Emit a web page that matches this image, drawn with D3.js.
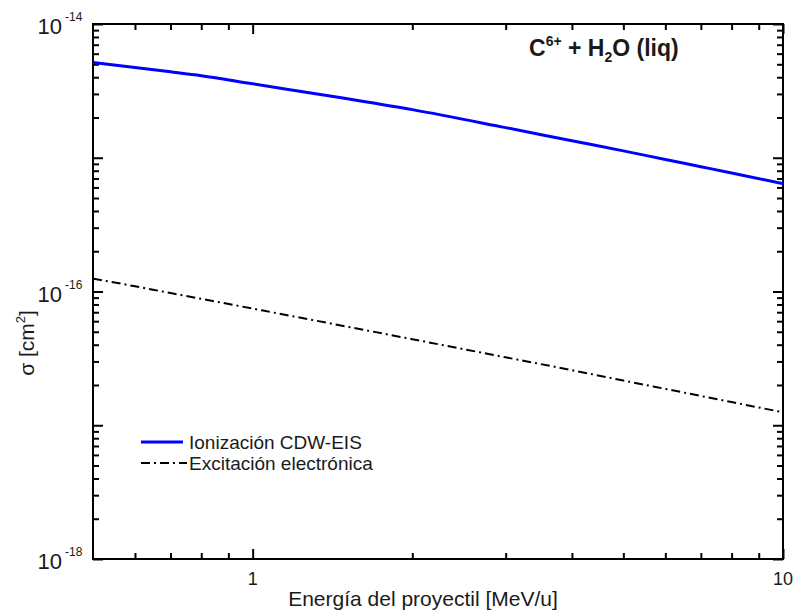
<!DOCTYPE html>
<html>
<head>
<meta charset="utf-8">
<script src="https://cdn.jsdelivr.net/npm/d3@7"></script>
<style>
  body { margin: 0; background: #fff; }
  svg text { font-family: Arial, "Liberation Sans", sans-serif; fill: #1a1a1a; }
</style>
</head>
<body>
<svg id="chart" width="796" height="614"></svg>
<script>
// energies in MeV/u
const energy = [0.5, 0.6, 0.7, 0.8, 1, 1.5, 2, 3, 4, 5, 6, 7, 8, 10];
// ionizacion CDW-EIS, cm^2
const ionizacion = [5.16e-15, 4.72e-15, 4.39e-15, 4.11e-15, 3.57e-15, 2.77e-15, 2.29e-15,
                    1.68e-15, 1.34e-15, 1.126e-15, 9.71e-16, 8.57e-16, 7.69e-16, 6.40e-16];
// excitacion electronica, cm^2
const excitacion = [1.25e-16, 1.094e-16, 9.74e-17, 8.82e-17, 7.45e-17, 5.48e-17, 4.40e-17,
                    3.22e-17, 2.58e-17, 2.16e-17, 1.87e-17, 1.655e-17, 1.49e-17, 1.25e-17];
const xMajor = [1, 10];
const xMinor = [0.6, 0.7, 0.8, 0.9, 2, 3, 4, 5, 6, 7, 8, 9];
const yMajorExp = [-14, -16, -18];
const yMidExp = [-15, -17];
const legendLabels = ["Ionización CDW-EIS", "Excitación electrónica"];

let svg = d3.select('#chart');
let margin = { top: 24, right: 13, bottom: 55, left: 93 };
let innerWidth = 796 - margin.left - margin.right;
let innerHeight = 614 - margin.top - margin.bottom;

const dashDot = "9,4,2,4";

draw_chart();

function draw_chart() {
    const xScale = d3.scaleLog().domain([0.5, 10]).range([0, innerWidth]);
    const yScale = d3.scaleLog().domain([1e-18, 1e-14]).range([innerHeight, 0]);

    const g = svg.append('g')
        .attr('transform', 'translate(' + margin.left + ',' + margin.top + ')');

    // minor y values: 2..9 in each decade
    let yMinor = [];
    for (let e = -18; e < -14; e++) {
        for (let m = 2; m <= 9; m++) yMinor.push(m * Math.pow(10, e));
    }
    const yMajor = yMajorExp.concat(yMidExp).map(e => Math.pow(10, e));

    // ticks pointing inward on all four sides
    function addAxis(axis, tr) {
        const a = g.append('g').attr('transform', tr).call(axis);
        a.selectAll('.domain').remove();
        a.selectAll('text').remove();
        a.selectAll('line').attr('stroke', '#000').attr('stroke-width', 2);
    }
    addAxis(d3.axisBottom(xScale).tickValues(xMajor).tickSize(-10), `translate(0,${innerHeight})`);
    addAxis(d3.axisBottom(xScale).tickValues(xMinor).tickSize(-6), `translate(0,${innerHeight})`);
    addAxis(d3.axisTop(xScale).tickValues(xMajor).tickSize(-10), 'translate(0,0)');
    addAxis(d3.axisTop(xScale).tickValues(xMinor).tickSize(-6), 'translate(0,0)');
    addAxis(d3.axisLeft(yScale).tickValues(yMajor).tickSize(-10), 'translate(0,0)');
    addAxis(d3.axisLeft(yScale).tickValues(yMinor).tickSize(-6), 'translate(0,0)');
    addAxis(d3.axisRight(yScale).tickValues(yMajor).tickSize(-10), `translate(${innerWidth},0)`);
    addAxis(d3.axisRight(yScale).tickValues(yMinor).tickSize(-6), `translate(${innerWidth},0)`);

    // frame
    g.append('rect')
        .attr('width', innerWidth).attr('height', innerHeight)
        .attr('fill', 'none').attr('stroke', '#000').attr('stroke-width', 2);

    // x tick labels
    g.selectAll('.xlab').data(xMajor).enter().append('text')
        .attr('class', 'xlab')
        .attr('x', d => xScale(d)).attr('y', innerHeight + 26)
        .attr('text-anchor', 'middle').style('font-size', '18px')
        .text(d => d);

    // y tick labels 10^n
    yMajorExp.forEach(function(e) {
        const y = yScale(Math.pow(10, e));
        g.append('text')
            .attr('x', -31).attr('y', y + 10)
            .attr('text-anchor', 'end').style('font-size', '22px')
            .text('10');
        g.append('text')
            .attr('x', -28).attr('y', y - 3)
            .style('font-size', '12px')
            .text(e);
    });

    // curves
    const line = d3.line()
        .x((d, i) => xScale(energy[i]))
        .y(d => yScale(d))
        .curve(d3.curveMonotoneX);

    g.append('path').datum(ionizacion)
        .attr('d', line).attr('fill', 'none')
        .attr('stroke', '#0000ff').attr('stroke-width', 3);
    g.append('path').datum(excitacion)
        .attr('d', line).attr('fill', 'none')
        .attr('stroke', '#000').attr('stroke-width', 2)
        .attr('stroke-dasharray', dashDot);

    // axis titles
    svg.append('text')
        .attr('x', 423).attr('y', 606)
        .attr('text-anchor', 'middle').style('font-size', '21px')
        .text('Energía del proyectil [MeV/u]');

    const yt = svg.append('text')
        .attr('transform', 'translate(34,343) rotate(-90)')
        .attr('text-anchor', 'middle').style('font-size', '21px');
    yt.append('tspan').text('σ [cm');
    yt.append('tspan').attr('dy', -9).style('font-size', '13px').text('2');
    yt.append('tspan').attr('dy', 9).text(']');

    // annotation
    const ann = svg.append('text')
        .attr('x', 529).attr('y', 56)
        .style('font-size', '23px').style('font-weight', 'bold');
    ann.append('tspan').text('C');
    ann.append('tspan').attr('dy', -10).style('font-size', '14px').text('6+');
    ann.append('tspan').attr('dy', 10).text(' + H');
    ann.append('tspan').attr('dy', 6).style('font-size', '14px').text('2');
    ann.append('tspan').attr('dy', -6).text('O (liq)');

    // legend
    const legend = svg.append('g');
    const legendY = [442, 463];
    legend.append('line')
        .attr('x1', 141).attr('x2', 183).attr('y1', legendY[0]).attr('y2', legendY[0])
        .attr('stroke', '#0000ff').attr('stroke-width', 3);
    legend.append('line')
        .attr('x1', 141).attr('x2', 187).attr('y1', legendY[1]).attr('y2', legendY[1])
        .attr('stroke', '#000').attr('stroke-width', 2)
        .attr('stroke-dasharray', dashDot);
    legend.selectAll('text').data(legendLabels).enter().append('text')
        .attr('x', 189).attr('y', (d, i) => legendY[i] + 7)
        .style('font-size', '19px')
        .text(d => d);
}
</script>
</body>
</html>
